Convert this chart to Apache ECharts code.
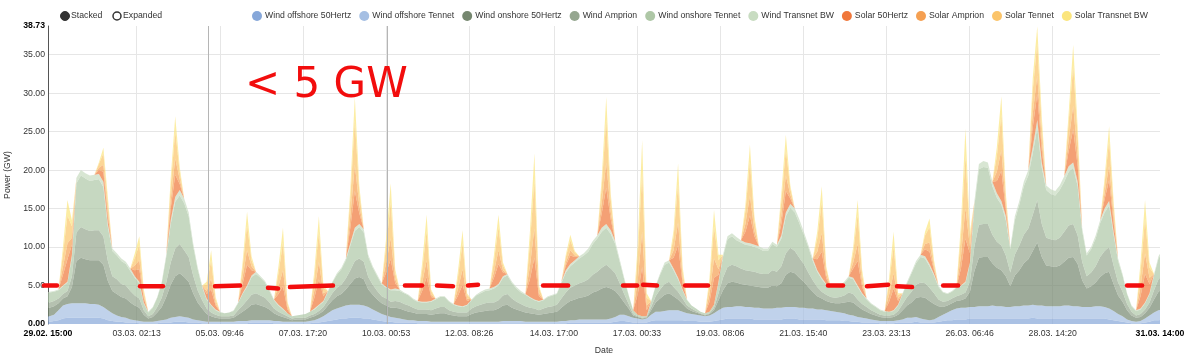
<!DOCTYPE html>
<html><head><meta charset="utf-8">
<script src="https://cdn.jsdelivr.net/npm/echarts@6/dist/echarts.min.js"></script>
<style>html,body{margin:0;padding:0;background:#fff}#c{width:1200px;height:363px}</style>
</head><body><div id="c"></div>
<script>
// ---------- axis texts ----------
const startLabel = '29.02. 15:00';
const endLabel = '31.03. 14:00';
const tickLabels = ['03.03. 02:13','05.03. 09:46','07.03. 17:20','10.03. 00:53','12.03. 08:26','14.03. 17:00',
  '17.03. 00:33','19.03. 08:06','21.03. 15:40','23.03. 23:13','26.03. 06:46','28.03. 14:20'];
const yTickValues = [0,5,10,15,20,25,30,35];
const yMax = 38.73;

// ---------- samples: every 3 h, hours counted from 29.02. 15:00 ----------
const sampleStartHour = -2;
const sampleStepHours = 3;

const windOffshore50Hertz = [0.3,
0.3,0.4,0.5,0.7,0.8,0.8,0.8,0.8, 0.8,0.8,0.8,0.8,0.7,0.5,0.4,0.3, 0.3,0.2,0.2,0.2,0.1,0.1,0.1,0.1,
0.1,0.2,0.2,0.2,0.3,0.3,0.3,0.2, 0.2,0.2,0.1,0.1,0.1,0.1,0.1,0.1, 0.1,0.1,0.1,0.1,0.1,0.2,0.2,0.2,
0.2,0.2,0.1,0.1,0.1,0.1,0.1,0.1, 0.1,0.1,0.1,0.2,0.2,0.3,0.4,0.5, 0.6,0.7,0.7,0.8,0.8,0.8,0.7,0.7,
0.6,0.5,0.4,0.3,0.3,0.2,0.2,0.2, 0.2,0.2,0.1,0.1,0.1,0.1,0.1,0.1, 0.1,0.1,0.1,0.1,0.1,0.1,0.1,0.1,
0.1,0.1,0.1,0.1,0.1,0.1,0.1,0.1, 0.1,0.1,0.1,0.1,0.1,0.1,0.1,0.1, 0.1,0.1,0.1,0.1,0.2,0.2,0.2,0.2,
0.2,0.2,0.2,0.2,0.2,0.2,0.3,0.4, 0.4,0.3,0.2,0.2,0.2,0.2,0.4,0.5, 0.5,0.5,0.5,0.5,0.5,0.5,0.4,0.4,
0.4,0.3,0.3,0.3,0.4,0.5,0.6,0.7, 0.7,0.7,0.7,0.7,0.7,0.6,0.6,0.6, 0.6,0.6,0.6,0.6,0.7,0.7,0.7,0.6,
0.6,0.6,0.6,0.6,0.6,0.5,0.5,0.5, 0.5,0.4,0.4,0.3,0.3,0.2,0.2,0.2, 0.2,0.1,0.1,0.1,0.1,0.2,0.2,0.2,
0.2,0.3,0.2,0.2,0.2,0.2,0.3,0.4, 0.5,0.5,0.6,0.6,0.6,0.7,0.7,0.7, 0.7,0.7,0.7,0.7,0.7,0.7,0.7,0.7,
0.7,0.7,0.7,0.8,0.7,0.7,0.7,0.7, 0.7,0.7,0.7,0.7,0.7,0.7,0.7,0.7, 0.7,0.7,0.7,0.7,0.6,0.5,0.4,0.3,
0.2,0.1,0.1,0.1,0.2,0.3,0.5,0.5,
0.6];

const windOffshoreTennet = [0.7,
0.7,0.8,1.3,1.7,1.8,1.9,1.9,1.9, 1.9,1.8,1.8,1.7,1.5,1.3,1.0,0.8, 0.6,0.6,0.4,0.3,0.3,0.2,0.2,0.2,
0.3,0.3,0.4,0.6,0.6,0.7,0.6,0.6, 0.4,0.3,0.3,0.2,0.2,0.2,0.2,0.2, 0.2,0.2,0.3,0.3,0.3,0.3,0.3,0.3,
0.3,0.3,0.3,0.3,0.2,0.2,0.2,0.2, 0.2,0.2,0.3,0.3,0.5,0.7,1.0,1.3, 1.4,1.5,1.7,1.7,1.7,1.7,1.7,1.5,
1.3,1.1,0.9,0.8,0.6,0.6,0.5,0.4, 0.3,0.3,0.3,0.3,0.3,0.2,0.2,0.2, 0.2,0.2,0.2,0.2,0.2,0.2,0.2,0.2,
0.2,0.2,0.2,0.2,0.2,0.3,0.3,0.3, 0.3,0.3,0.2,0.2,0.2,0.2,0.2,0.2, 0.2,0.2,0.3,0.3,0.3,0.3,0.4,0.4,
0.4,0.4,0.4,0.4,0.4,0.5,0.6,0.8, 0.8,0.7,0.6,0.5,0.4,0.5,0.8,1.1, 1.1,1.2,1.3,1.3,1.3,1.1,1.0,0.9,
0.8,0.8,0.7,0.8,1.0,1.3,1.5,1.5, 1.5,1.6,1.6,1.5,1.5,1.5,1.5,1.4, 1.4,1.4,1.5,1.5,1.5,1.5,1.5,1.5,
1.5,1.4,1.4,1.3,1.3,1.3,1.2,1.1, 1.0,1.0,0.8,0.8,0.6,0.6,0.5,0.4, 0.3,0.3,0.3,0.3,0.3,0.3,0.4,0.6,
0.6,0.6,0.5,0.4,0.3,0.4,0.6,0.8, 1.0,1.3,1.4,1.5,1.5,1.5,1.5,1.6, 1.6,1.6,1.7,1.6,1.6,1.5,1.5,1.6,
1.6,1.7,1.7,1.7,1.7,1.7,1.6,1.6, 1.6,1.6,1.7,1.7,1.6,1.6,1.5,1.5, 1.5,1.6,1.6,1.5,1.4,1.2,0.9,0.7,
0.4,0.3,0.2,0.3,0.5,0.8,1.0,1.3,
1.3];

const windOnshore50Hertz = [1.0,
1.1,1.1,0.9,0.9,1.0,2.1,5.5,5.9, 5.7,5.7,5.7,5.8,5.5,3.8,2.9,2.8, 2.6,2.5,2.2,1.9,1.7,0.9,0.4,0.6,
1.1,1.7,2.9,4.3,5.3,5.6,5.2,4.7, 3.4,2.3,1.6,1.0,0.7,0.5,0.4,0.4, 0.4,0.5,0.8,1.2,1.6,2.0,2.1,1.9,
1.7,1.4,1.0,0.7,0.6,0.4,0.2,0.3, 0.3,0.3,0.4,0.5,0.6,0.7,1.0,1.3, 1.6,1.7,2.1,2.7,3.4,3.6,3.4,2.3,
1.9,1.6,1.4,1.3,1.2,1.3,1.3,1.2, 1.1,1.0,0.9,0.9,0.9,0.9,1.0,1.1, 1.1,0.9,0.8,0.7,0.7,0.7,1.0,1.2,
1.3,1.4,1.5,1.5,1.7,2.0,2.1,1.7, 1.5,1.3,1.2,1.1,1.0,0.9,1.0,1.1, 1.2,1.3,1.7,2.2,2.5,2.7,2.8,2.9,
3.1,3.5,3.7,4.0,4.2,3.9,3.4,2.4, 1.6,1.0,0.3,0.2,0.1,0.1,0.6,1.2, 1.7,2.1,2.2,1.8,1.4,1.0,0.6,0.4,
0.3,0.2,0.1,0.2,0.4,1.3,2.3,3.1, 3.3,3.1,2.9,2.9,2.8,2.8,2.7,2.7, 2.7,3.0,2.8,3.2,4.2,4.6,4.4,3.9,
3.4,2.8,2.2,1.7,1.4,1.2,1.1,1.1, 1.2,1.4,1.7,1.7,1.4,1.1,0.9,0.7, 0.6,0.5,0.4,0.4,0.5,0.7,1.2,1.6,
2.0,2.5,2.8,2.8,2.5,2.0,1.4,1.0, 0.9,0.9,1.0,1.0,1.2,2.0,4.7,6.3, 6.4,6.4,5.5,5.0,4.7,4.0,2.7,4.0,
4.7,5.5,6.0,7.0,8.2,6.3,5.3,5.2, 5.1,5.3,5.7,6.2,6.4,5.5,3.5,2.4, 2.7,3.1,3.8,4.4,4.8,3.5,2.4,1.9,
1.2,0.7,0.5,0.5,0.7,1.0,1.7,2.4,
2.7];

const windAmprion = [0.7,
0.7,0.7,0.6,0.6,0.7,1.4,3.7,4.0, 3.9,3.8,3.9,3.9,3.7,2.6,1.9,1.9, 1.7,1.7,1.5,1.3,1.2,0.6,0.3,0.4,
0.7,1.2,1.9,2.9,3.6,3.8,3.5,3.2, 2.3,1.6,1.1,0.7,0.5,0.4,0.3,0.3, 0.3,0.3,0.6,0.8,1.1,1.3,1.4,1.3,
1.2,0.9,0.6,0.5,0.4,0.3,0.2,0.2, 0.2,0.2,0.3,0.3,0.4,0.5,0.7,0.9, 1.1,1.2,1.4,1.8,2.3,2.4,2.3,1.6,
1.3,1.1,0.9,0.9,0.8,0.9,0.9,0.8, 0.8,0.6,0.6,0.6,0.6,0.6,0.7,0.8, 0.8,0.6,0.5,0.5,0.5,0.5,0.7,0.8,
0.9,1.0,1.0,1.0,1.1,1.3,1.4,1.2, 1.0,0.9,0.8,0.7,0.7,0.6,0.7,0.8, 0.8,0.9,1.2,1.5,1.7,1.8,1.9,2.0,
2.1,2.3,2.5,2.7,2.9,2.6,2.3,1.7, 1.1,0.6,0.2,0.1,0.1,0.1,0.4,0.8, 1.2,1.4,1.5,1.2,1.0,0.7,0.4,0.3,
0.2,0.1,0.1,0.1,0.3,0.9,1.6,2.1, 2.2,2.1,2.0,1.9,1.9,1.9,1.8,1.8, 1.8,2.0,1.9,2.2,2.8,3.1,2.9,2.6,
2.3,1.9,1.5,1.2,0.9,0.8,0.7,0.7, 0.8,0.9,1.2,1.1,0.9,0.7,0.6,0.5, 0.4,0.3,0.3,0.3,0.3,0.5,0.8,1.1,
1.4,1.7,1.9,1.9,1.7,1.4,0.9,0.7, 0.6,0.6,0.6,0.7,0.8,1.3,3.2,4.3, 4.3,4.3,3.7,3.4,3.2,2.7,1.8,2.7,
3.2,3.7,4.0,4.7,5.5,4.3,3.6,3.5, 3.5,3.6,3.9,4.2,4.3,3.7,2.4,1.6, 1.8,2.1,2.6,2.9,3.2,2.4,1.7,1.3,
0.8,0.5,0.3,0.4,0.5,0.7,1.2,1.6,
1.8];

const windOnshoreTennet = [1.2,
1.3,1.2,1.1,1.0,1.1,2.5,6.4,6.7, 6.6,6.5,6.5,6.6,6.4,4.4,3.3,3.1, 3.0,2.8,2.6,2.3,2.0,0.9,0.5,0.8,
1.2,1.9,3.3,5.0,6.1,6.3,6.1,5.3, 3.8,2.7,1.7,1.2,0.9,0.6,0.5,0.4, 0.5,0.6,0.9,1.5,1.7,2.3,2.5,2.3,
2.0,1.5,1.1,0.8,0.6,0.4,0.3,0.3, 0.4,0.5,0.5,0.6,0.7,0.7,1.1,1.4, 1.7,2.0,2.4,3.2,3.9,4.1,3.8,2.6,
2.2,1.9,1.5,1.4,1.5,1.4,1.4,1.4, 1.3,1.1,1.0,0.9,0.9,1.1,1.2,1.3, 1.3,1.1,0.9,0.8,0.7,0.9,1.1,1.4,
1.5,1.6,1.6,1.8,1.9,2.3,2.4,2.0, 1.7,1.5,1.5,1.3,1.1,1.1,1.1,1.3, 1.4,1.4,2.0,2.6,2.8,3.0,3.2,3.4,
3.6,4.0,4.3,4.7,4.8,4.5,3.8,2.8, 1.9,1.1,0.5,0.2,0.2,0.1,0.7,1.3, 1.9,2.5,2.5,2.2,1.6,1.1,0.7,0.4,
0.3,0.2,0.2,0.2,0.4,1.4,2.7,3.6, 3.7,3.4,3.4,3.3,3.3,3.2,3.2,3.0, 3.0,3.4,3.2,3.6,4.8,5.2,5.0,4.5,
3.8,3.3,2.5,2.0,1.6,1.3,1.2,1.3, 1.3,1.6,1.9,1.9,1.6,1.3,1.0,0.8, 0.7,0.6,0.5,0.5,0.5,0.7,1.3,1.8,
2.4,2.8,3.3,3.2,2.8,2.3,1.6,1.2, 0.9,0.9,1.1,1.1,1.3,2.3,5.3,7.2, 7.4,7.3,6.3,5.7,5.3,4.6,3.0,4.5,
5.3,6.3,6.9,8.0,9.4,7.3,6.2,5.9, 5.8,6.2,6.5,7.0,7.3,6.4,4.0,2.7, 3.0,3.6,4.4,5.0,5.4,4.0,2.8,2.1,
1.3,0.7,0.6,0.6,0.8,1.1,1.9,2.7,
3.1];

const windTransnetBW = [0.1,
0.1,0.1,0.1,0.1,0.1,0.3,0.7,0.7, 0.7,0.7,0.7,0.7,0.7,0.4,0.3,0.3, 0.3,0.3,0.3,0.2,0.2,0.1,0.1,0.1,
0.1,0.2,0.3,0.5,0.6,0.7,0.6,0.5, 0.4,0.3,0.2,0.1,0.1,0.1,0.1,0.0, 0.0,0.1,0.1,0.1,0.2,0.2,0.3,0.2,
0.2,0.2,0.1,0.1,0.1,0.0,0.0,0.0, 0.0,0.0,0.0,0.1,0.1,0.1,0.1,0.1, 0.2,0.2,0.2,0.3,0.4,0.4,0.4,0.3,
0.2,0.2,0.2,0.1,0.1,0.2,0.2,0.1, 0.1,0.1,0.1,0.1,0.1,0.1,0.1,0.1, 0.1,0.1,0.1,0.1,0.1,0.1,0.1,0.1,
0.2,0.2,0.2,0.2,0.2,0.2,0.2,0.2, 0.2,0.2,0.1,0.1,0.1,0.1,0.1,0.1, 0.1,0.1,0.2,0.3,0.3,0.3,0.3,0.3,
0.4,0.4,0.4,0.5,0.5,0.5,0.4,0.3, 0.2,0.1,0.0,0.0,0.0,0.0,0.1,0.1, 0.2,0.3,0.3,0.2,0.2,0.1,0.1,0.0,
0.0,0.0,0.0,0.0,0.0,0.1,0.3,0.4, 0.4,0.4,0.3,0.3,0.3,0.3,0.3,0.3, 0.3,0.3,0.3,0.4,0.5,0.5,0.5,0.5,
0.4,0.3,0.3,0.2,0.2,0.1,0.1,0.1, 0.1,0.2,0.2,0.2,0.2,0.1,0.1,0.1, 0.1,0.1,0.1,0.0,0.1,0.1,0.1,0.2,
0.2,0.3,0.3,0.3,0.3,0.2,0.2,0.1, 0.1,0.1,0.1,0.1,0.1,0.2,0.6,0.7, 0.8,0.7,0.6,0.6,0.5,0.5,0.3,0.5,
0.5,0.6,0.7,0.8,1.0,0.7,0.6,0.6, 0.6,0.6,0.7,0.7,0.7,0.6,0.4,0.3, 0.3,0.4,0.4,0.5,0.6,0.4,0.3,0.2,
0.1,0.1,0.1,0.1,0.1,0.1,0.2,0.3,
0.3];

// solar: one triple per day = the three daytime samples around the midday peak (other samples are night = 0)
const solarFirstSampleIndex = 4;  // index of the first daytime sample of day 0
const samplesPerDay = 8;
const solar50Hertz = [[1.4,2.9,1.3],[0.5,1.3,0.9],[0.8,1.6,0.5],[1.5,2.9,0.8],[0.6,2.0,0.5],[1.2,2.7,0.7],[1.4,2.9,0.5],[1.4,3.3,0.6],
 [2.0,4.8,1.4],[1.9,3.9,0.7],[1.4,3.2,0.5],[1.3,2.8,0.5],[1.2,2.6,0.5],[2.3,5.4,0.6],[0.6,1.1,0.4],[1.9,4.7,1.4],
 [2.6,6.4,0.8],[1.4,4.2,0.8],[1.3,3.5,0.9],[1.4,3.6,1.1],[1.5,2.8,0.7],[1.4,3.4,0.7],[1.2,3.2,0.8],[1.3,2.8,0.5],
 [0.9,1.6,0.5],[2.2,5.6,1.2],[1.6,3.9,0.8],[2.6,3.4,1.6],[2.0,4.3,2.0],[1.2,2.7,1.2],[1.6,3.7,1.2]];
const solarAmprion = [[1.0,2.1,0.9],[0.3,0.9,0.7],[0.6,1.2,0.3],[1.1,2.1,0.6],[0.4,1.4,0.3],[0.8,1.9,0.5],[1.0,2.1,0.3],[1.0,2.3,0.4],
 [1.4,3.4,1.0],[1.3,2.7,0.5],[1.0,2.2,0.3],[0.9,2.0,0.3],[0.8,1.8,0.3],[1.7,3.8,0.4],[0.4,0.7,0.2],[1.3,3.3,1.0],
 [1.8,4.6,0.6],[1.0,3.0,0.6],[0.9,2.5,0.7],[1.0,2.6,0.7],[1.1,2.0,0.5],[1.0,2.4,0.5],[0.8,2.2,0.6],[0.9,2.0,0.3],
 [0.7,1.2,0.3],[1.6,4.0,0.8],[1.2,2.7,0.6],[1.8,2.4,1.2],[1.4,3.1,1.4],[0.8,1.9,0.8],[1.2,2.7,0.8]];
const solarTennet = [[1.7,3.6,1.5],[0.5,1.5,1.2],[1.0,2.0,0.6],[1.9,3.6,1.0],[0.8,2.4,0.5],[1.3,3.3,0.8],[1.7,3.6,0.5],[1.7,3.9,0.7],
 [2.4,5.8,1.7],[2.2,4.7,0.8],[1.7,3.8,0.5],[1.6,3.4,0.5],[1.4,3.0,0.6],[2.9,6.4,0.7],[0.7,1.3,0.4],[2.2,5.6,1.6],
 [3.0,7.8,1.0],[1.7,5.1,1.0],[1.5,4.2,1.2],[1.7,4.4,1.3],[1.9,3.4,0.8],[1.7,4.0,0.8],[1.3,3.8,1.0],[1.5,3.5,0.5],
 [1.1,2.0,0.6],[2.7,6.8,1.3],[2.0,4.6,1.0],[3.0,4.2,2.0],[2.4,5.2,2.4],[1.3,3.3,1.3],[2.0,4.5,1.3]];
const solarTransnetBW = [[0.9,2.0,0.8],[0.2,0.7,0.7],[0.6,1.1,0.3],[1.0,1.9,0.6],[0.4,1.3,0.3],[0.7,1.7,0.5],[0.9,1.9,0.2],[0.9,2.0,0.3],
 [1.2,3.0,0.9],[1.1,2.5,0.5],[0.9,2.1,0.2],[0.8,1.7,0.2],[0.8,1.6,0.4],[1.6,3.4,0.3],[0.3,0.7,0.2],[1.1,2.9,0.8],
 [1.6,4.1,0.6],[0.9,2.6,0.6],[0.7,2.1,0.7],[0.8,2.2,0.6],[1.0,1.9,0.4],[0.9,2.1,0.3],[0.7,1.9,0.6],[0.7,1.9,0.2],
 [0.5,1.1,0.4],[1.5,3.5,0.7],[1.2,2.4,0.6],[1.6,2.2,1.2],[1.2,2.7,1.2],[0.7,1.8,0.7],[1.2,2.4,0.7]];

// hand-drawn red annotation: dash segments [fromHour, toHour, fromGW, toGW]
const redDashes = [[-2.7,6.0,5.0,5.0],[61.5,76.8,4.9,4.9],[111.6,128.3,4.9,5.0],[147.0,153.7,4.7,4.6],[161.7,190.4,4.8,5.0],
 [238.5,249.9,5.0,5.0],[259.9,270.6,5.0,4.9],[280.6,287.3,5.0,5.1],[330.8,347.5,5.0,5.0],[384.2,393.6,5.0,5.0],
 [397.6,406.9,5.1,5.0],[425.7,441.0,5.0,5.0],[521.2,531.2,5.0,5.0],[547.2,561.3,4.9,5.1],[567.3,577.4,4.9,4.8],
 [598.1,608.1,5.0,5.0],[721.0,731.0,5.0,5.0]];
const annotationText = '< 5 GW';
const markerHours = [106.9, 226.5];

const seriesNames = ['Wind offshore 50Hertz','Wind offshore Tennet','Wind onshore 50Hertz','Wind Amprion','Wind onshore Tennet',
  'Wind Transnet BW','Solar 50Hertz','Solar Amprion','Solar Tennet','Solar Transnet BW'];
const seriesColors = ['#86a7d9','#a5bfe3','#75876f','#95a68f','#aec7a6','#c8dcc1','#f0773a','#f5a052','#fbc46a','#fbe57d'];

// ---------- build ----------
function hoursFromStart(label) {
  const parts = label.split(' ');
  const dm = parts[0].split('.');
  const hm = parts[1].split(':');
  const t = Date.UTC(2024, +dm[1] - 1, +dm[0], +hm[0], +hm[1]);
  const t0 = Date.UTC(2024, 1, 29, 15, 0);
  return (t - t0) / 3600000;
}
const xMax = hoursFromStart(endLabel);
const tickHours = tickLabels.map(hoursFromStart);
function xLabel(v) {
  if (Math.abs(v) < 1e-6) return '{b|' + startLabel + '}';
  if (Math.abs(v - xMax) < 1e-6) return '{b|' + endLabel + '}';
  for (let i = 0; i < tickHours.length; i++) if (Math.abs(v - tickHours[i]) < 1e-6) return tickLabels[i];
  return '';
}

const N = windOffshore50Hertz.length;
const hours = windOffshore50Hertz.map((_, i) => sampleStartHour + i * sampleStepHours);
function expandSolar(days) {
  const full = new Array(N).fill(0);
  days.forEach((d, k) => {
    for (let m = 0; m < 3; m++) {
      const idx = solarFirstSampleIndex + samplesPerDay * k + m;
      if (idx < N) full[idx] = d[m];
    }
  });
  return full;
}
const values = [windOffshore50Hertz, windOffshoreTennet, windOnshore50Hertz, windAmprion, windOnshoreTennet, windTransnetBW,
  expandSolar(solar50Hertz), expandSolar(solarAmprion), expandSolar(solarTennet), expandSolar(solarTransnetBW)];

const FONT = 'Liberation Sans, Arial, sans-serif';
const FS = 8.7;

// power is put in the first dimension, so the stack accumulates power (not hours)
const series = seriesNames.map((name, i) => ({
  name, type: 'line', stack: 'total', symbol: 'none', showSymbol: false, smooth: false,
  color: seriesColors[i],
  lineStyle: { width: 0 },
  areaStyle: { color: seriesColors[i], opacity: 0.7 },
  emphasis: { disabled: true },
  encode: { x: 1, y: 0 },
  data: hours.map((h, j) => [values[i][j], h]),
  z: 2
}));
series[0].markLine = {
  silent: true, symbol: 'none', label: { show: false },
  lineStyle: { color: '#b5b5b5', width: 1, type: 'solid' },
  data: markerHours.map(h => ({ xAxis: h }))
};
series.push({
  type: 'custom', name: 'annotation', z: 20, silent: true, clip: false,
  renderItem: (params, api) => {
    const p0 = api.coord([api.value(0), api.value(2)]);
    const p1 = api.coord([api.value(1), api.value(3)]);
    return { type: 'line', shape: { x1: p0[0], y1: p0[1], x2: p1[0], y2: p1[1] },
      style: { stroke: '#f20d0d', lineWidth: 4.5, lineCap: 'round' } };
  },
  encode: { x: [0, 1], y: [2, 3] },
  data: redDashes
});

const chart = echarts.init(document.getElementById('c'), null, { renderer: 'canvas' });
chart.setOption({
  animation: false,
  textStyle: { fontFamily: FONT },
  grid: { left: 48, right: 40, top: 26, bottom: 39, containLabel: false, outerBoundsMode: 'none' },
  legend: {
    data: seriesNames, left: 252, top: 11, icon: 'circle', itemWidth: 10, itemHeight: 10, itemGap: 8,
    padding: 0, selectedMode: false,
    textStyle: { fontSize: FS, color: '#333', fontFamily: FONT, padding: [0, 0, 0, -2] }
  },
  xAxis: {
    type: 'value', min: 0, max: xMax,
    name: 'Date', nameLocation: 'middle', nameGap: 22,
    nameTextStyle: { fontSize: FS, color: '#333', fontFamily: FONT },
    axisLine: { show: false },
    axisTick: { show: false, customValues: tickHours },
    splitLine: { show: true, lineStyle: { color: '#e6e6e6', width: 1 } },
    axisLabel: {
      customValues: [0].concat(tickHours, [xMax]),
      margin: 5, fontSize: FS, color: '#333', fontFamily: FONT,
      formatter: v => xLabel(v),
      rich: { b: { fontWeight: 'bold', fontSize: FS, color: '#000', fontFamily: FONT } }
    }
  },
  yAxis: {
    type: 'value', min: 0, max: yMax, interval: 5,
    name: 'Power (GW)', nameLocation: 'middle', nameGap: 30,
    nameTextStyle: { fontSize: FS, color: '#333', fontFamily: FONT },
    axisLine: { show: true, lineStyle: { color: '#555', width: 1 } },
    axisTick: { show: false, customValues: yTickValues.slice(1) },
    splitLine: { show: true, lineStyle: { color: '#e6e6e6', width: 1 } },
    axisLabel: {
      customValues: yTickValues.concat([yMax]),
      margin: 3, fontSize: FS, color: '#333', fontFamily: FONT,
      formatter: v => (v === 0 || v === yMax) ? '{b|' + v.toFixed(2) + '}' : v.toFixed(2),
      rich: { b: { fontWeight: 'bold', fontSize: FS, color: '#000', fontFamily: FONT } }
    }
  },
  graphic: [
    { type: 'circle', shape: { cx: 65, cy: 16, r: 4.5 }, style: { fill: '#333', stroke: '#333' } },
    { type: 'text', x: 71, y: 16, style: { text: 'Stacked', fill: '#333', font: FS + 'px ' + FONT, verticalAlign: 'middle' } },
    { type: 'circle', shape: { cx: 117, cy: 16, r: 4 }, style: { fill: '#fff', stroke: '#333', lineWidth: 1.5 } },
    { type: 'text', x: 123, y: 16, style: { text: 'Expanded', fill: '#333', font: FS + 'px ' + FONT, verticalAlign: 'middle' } },
    { type: 'text', x: 245, y: 86, z: 30, style: { text: annotationText, fill: '#f20d0d', font: '42px "DejaVu Sans"', verticalAlign: 'middle' } }
  ],
  series
});
</script>
</body></html>
